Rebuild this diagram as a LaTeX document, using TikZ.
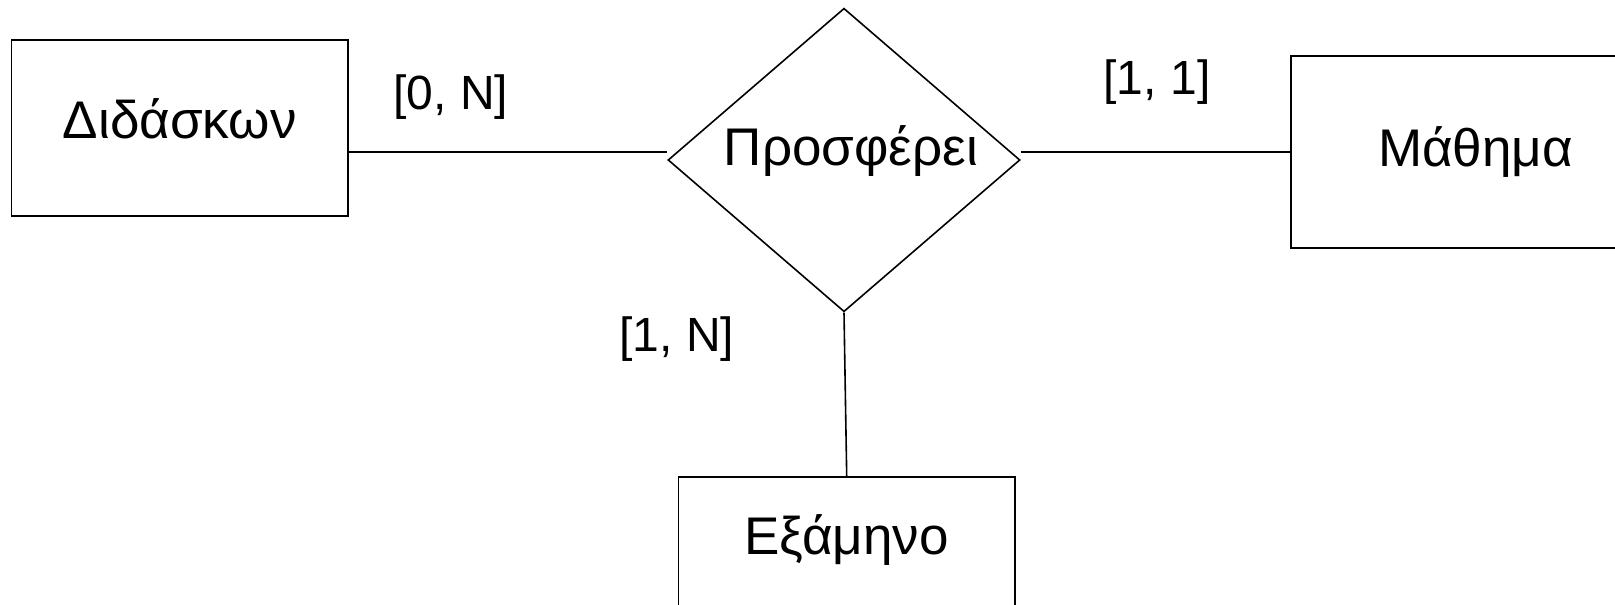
\documentclass[tikz,border=0pt]{standalone}
\usepackage{fontspec}
\setmainfont{Liberation Sans}
\usetikzlibrary{shapes.geometric}
\begin{document}
\begin{tikzpicture}[x=1pt,y=-1pt,
  entity/.style={draw=black, line width=1.6pt, rectangle, inner sep=0pt, font=\fontsize{53}{60}\selectfont},
  relation/.style={draw=black, line width=1.6pt, diamond, inner sep=0pt, shape aspect=1.16, font=\fontsize{53}{60}\selectfont},
  card/.style={inner sep=0pt, anchor=base, font=\fontsize{48}{56}\selectfont},
  conn/.style={draw=black, line width=1.6pt}]
\useasboundingbox (0,0) rectangle (1615,605);
\clip (0,0) rectangle (1615,605);
\node[entity, minimum width=336.5pt, minimum height=176pt, text height=38pt, text depth=18pt] (dida) at (179.8,128) {Διδάσκων};
\node[relation, minimum width=352pt, minimum height=303.5pt, text height=38pt, text depth=28pt] (prosf) at (844,160) {\hspace*{14pt}Προσφέρει};
\node[entity, minimum width=369pt, minimum height=192pt, text height=38pt, text depth=10pt] (math) at (1475.5,152) {Μάθημα};
\node[entity, minimum width=336.7pt, minimum height=200pt, text height=38pt, text depth=82pt] (exam) at (846.7,576.7) {Εξάμηνο};
\node[card] (c1) at (451,109) {[0, N]};
\node[card] (c2) at (1157,94) {[1, 1]};
\node[card] (c3) at (677,351.5) {[1, N]};
\draw[conn] (dida.east |- 0,152) -- (prosf.west |- 0,152);
\draw[conn] (prosf.east |- 0,152) -- (math.west |- 0,152);
\draw[conn] (prosf.south) -- (exam.north);
\end{tikzpicture}
\end{document}
